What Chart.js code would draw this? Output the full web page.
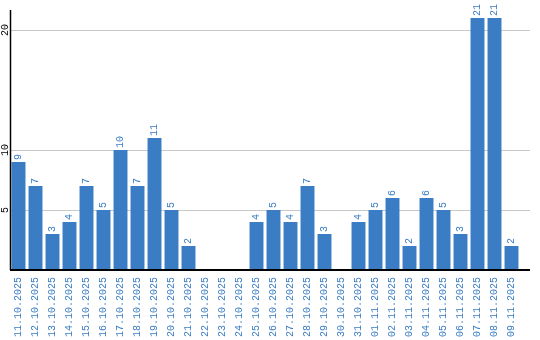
<!DOCTYPE html>
<html>
<head>
<meta charset="utf-8">
<script src="https://cdn.jsdelivr.net/npm/chart.js@4/dist/chart.umd.min.js"></script>
<style>
  body { margin: 0; background: #fff; }
  canvas { display: block; }
</style>
</head>
<body>
<canvas id="dayChart" width="540" height="340"></canvas>
<script>
const days = [
  '11.10.2025', '12.10.2025', '13.10.2025', '14.10.2025', '15.10.2025', '16.10.2025',
  '17.10.2025', '18.10.2025', '19.10.2025', '20.10.2025', '21.10.2025', '22.10.2025',
  '23.10.2025', '24.10.2025', '25.10.2025', '26.10.2025', '27.10.2025', '28.10.2025',
  '29.10.2025', '30.10.2025', '31.10.2025', '01.11.2025', '02.11.2025', '03.11.2025',
  '04.11.2025', '05.11.2025', '06.11.2025', '07.11.2025', '08.11.2025', '09.11.2025'
];
const counts = [9, 7, 3, 4, 7, 5, 10, 7, 11, 5, 2, 0, 0, 0, 4, 5, 4, 7, 3, 0, 4, 5, 6, 2, 6, 5, 3, 21, 21, 2];
const yTicks = [5, 10, 20];

const blue = '#3b7dc4';
const monoFont = '10px "Liberation Mono", "DejaVu Sans Mono", monospace';

// grid + axis lines, a bit wider than the bars on the right
const gridPlugin = {
    id: 'gridLines',
    beforeDatasetsDraw(chart) {
        const { ctx, chartArea } = chart;
        const y = chart.scales.y;
        const right = chartArea.right + 10;
        ctx.save();
        ctx.strokeStyle = '#c8c8c8';
        ctx.lineWidth = 1;
        yTicks.forEach(v => {
            const py = Math.round(y.getPixelForValue(v)) + 0.5;
            ctx.beginPath();
            ctx.moveTo(chartArea.left, py);
            ctx.lineTo(right, py);
            ctx.stroke();
        });
        ctx.restore();
    },
    afterDatasetsDraw(chart) {
        const { ctx, chartArea } = chart;
        const y = chart.scales.y;
        ctx.save();
        ctx.strokeStyle = '#000';
        ctx.lineWidth = 1.5;
        ctx.beginPath();
        ctx.moveTo(chartArea.left + 0.5, chartArea.top);
        ctx.lineTo(chartArea.left + 0.5, chartArea.bottom);
        ctx.stroke();
        ctx.lineWidth = 2;
        ctx.beginPath();
        ctx.moveTo(chartArea.left, chartArea.bottom);
        ctx.lineTo(chartArea.right + 10, chartArea.bottom);
        ctx.stroke();

        // y tick labels, rotated
        ctx.fillStyle = '#000';
        ctx.font = monoFont;
        ctx.textAlign = 'center';
        ctx.textBaseline = 'middle';
        yTicks.forEach(v => {
            ctx.save();
            ctx.translate(chartArea.left - 4.5, y.getPixelForValue(v));
            ctx.rotate(-Math.PI / 2);
            ctx.fillText(String(v), 0, 0);
            ctx.restore();
        });

        // value labels above bars
        const meta = chart.getDatasetMeta(0);
        ctx.fillStyle = blue;
        ctx.textAlign = 'left';
        meta.data.forEach((bar, i) => {
            if (!counts[i]) return;
            ctx.save();
            ctx.translate(bar.x, bar.y - 2);
            ctx.rotate(-Math.PI / 2);
            ctx.fillText(String(counts[i]), 0, 0);
            ctx.restore();
        });
        ctx.restore();
    }
};

new Chart(document.getElementById('dayChart').getContext('2d'), {
    type: 'bar',
    data: {
        labels: days,
        datasets: [{
            data: counts,
            backgroundColor: blue,
            borderWidth: 0,
            barPercentage: 0.82,
            categoryPercentage: 1
        }]
    },
    options: {
        responsive: false,
        animation: false,
        layout: { padding: { top: 10, right: 20, left: 0, bottom: 0 } },
        plugins: { legend: { display: false }, tooltip: { enabled: false } },
        scales: {
            x: {
                grid: { display: false, drawTicks: false },
                border: { display: false },
                ticks: {
                    color: blue,
                    font: { family: '"Liberation Mono", "DejaVu Sans Mono", monospace', size: 10 },
                    minRotation: 90,
                    maxRotation: 90,
                    autoSkip: false,
                    padding: 7
                },
                afterFit(scale) { scale.height = 70; }
            },
            y: {
                min: 0,
                max: 21.67,
                grid: { display: false },
                border: { display: false },
                ticks: { display: false },
                afterBuildTicks(scale) { scale.ticks = yTicks.map(v => ({ value: v })); },
                afterFit(scale) { scale.width = 10; }
            }
        }
    },
    plugins: [gridPlugin]
});
</script>
</body>
</html>
